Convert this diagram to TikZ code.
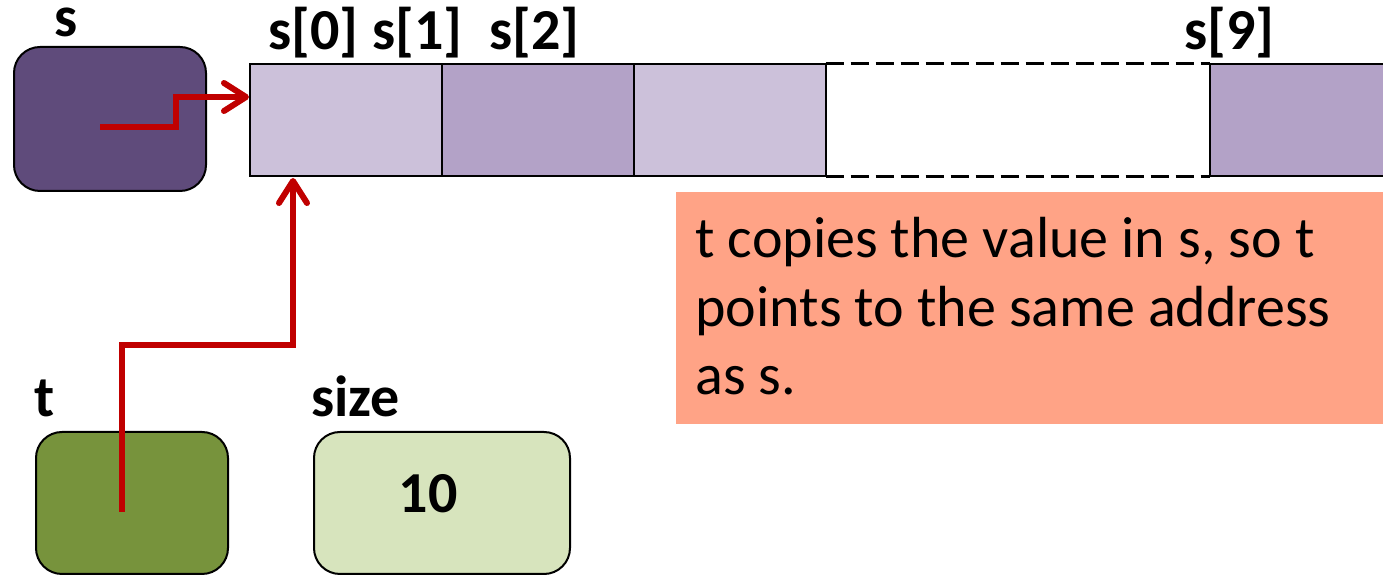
\documentclass[tikz,border=0pt]{standalone}
\usepackage{fontspec}
\setmainfont{Carlito}
\usetikzlibrary{arrows.meta}
\definecolor{sfill}{RGB}{95,75,123}
\definecolor{clight}{RGB}{204,193,218}
\definecolor{cmed}{RGB}{179,162,199}
\definecolor{tfill}{RGB}{119,147,60}
\definecolor{szfill}{RGB}{215,228,189}
\definecolor{notefill}{RGB}{255,163,134}
\definecolor{ptrred}{RGB}{192,0,0}
\begin{document}
\begin{tikzpicture}[x=0.5pt,y=-0.5pt,
  var/.style={draw=black,line width=1pt,rounded corners=13pt,inner sep=0pt},
  cell/.style={draw=black,line width=1pt,minimum width=96pt,minimum height=56pt,inner sep=0pt},
  gapline/.style={draw=black,line width=1.5pt,dash pattern=on 9pt off 3.5pt},
  lbl/.style={font=\fontsize{29}{34}\selectfont\bfseries,anchor=base west,inner sep=0pt},
  notetext/.style={font=\fontsize{29}{34.25}\selectfont,align=left,anchor=base west,inner sep=0pt},
  ptr/.style={draw=ptrred,line width=3pt,-{Straight Barb[length=11pt,width=14pt,round]}}]
\useasboundingbox (0,0) rectangle (1383,576);

% pointer variable s
\node[var,fill=sfill,minimum width=96pt,minimum height=72pt] (s) at (110,119) {};
\node[lbl] (slbl) at (54,37) {s};

% array cells
\node[cell,fill=clight] (c0) at (346,120) {};
\node[cell,fill=cmed] (c1) at (538,120) {};
\node[cell,fill=clight] (c2) at (730,120) {};
\node[minimum width=192pt,minimum height=56pt,inner sep=0pt] (gap) at (1018,120) {};
\draw[gapline] (gap.north west) -- (gap.north east);
\draw[gapline] (gap.south west) -- (gap.south east);
\node[cell,fill=cmed] (c9) at (1306,120) {};

\node[lbl] (l0) at (268,50) {s[0]};
\node[lbl] (l1) at (372,50) {s[1]};
\node[lbl] (l2) at (489,50) {s[2]};
\node[lbl] (l9) at (1184,50) {s[9]};

% t and size
\node[var,fill=tfill,minimum width=96pt,minimum height=71pt] (t) at (132,503) {};
\node[lbl] (tlbl) at (34,417) {t};
\node[var,fill=szfill,minimum width=128pt,minimum height=71pt] (size) at (442,503) {};
\node[lbl] (sizelbl) at (311,417) {size};
\node[font=\fontsize{29}{34}\selectfont\bfseries,anchor=base,inner sep=0pt] (ten) at (428,513) {10};

% note
\node[fill=notefill,minimum width=353.5pt,minimum height=116pt,inner sep=0pt] (note) at (1029.5,308) {};
\node[notetext] (notetxt) at (695,395) {t copies the value in s, so t\\points to the same address\\as s.};

% pointers
\coordinate (sp) at (100,127);
\coordinate (sEnd) at (249,97);
\draw[ptr] (sp) -- ++(76,0) |- (sEnd);
\coordinate (tp) at (122,512);
\coordinate (tEnd) at (293,178);
\draw[ptr] (tp) -- ++(0,-167) -| (tEnd);
\end{tikzpicture}
\end{document}
